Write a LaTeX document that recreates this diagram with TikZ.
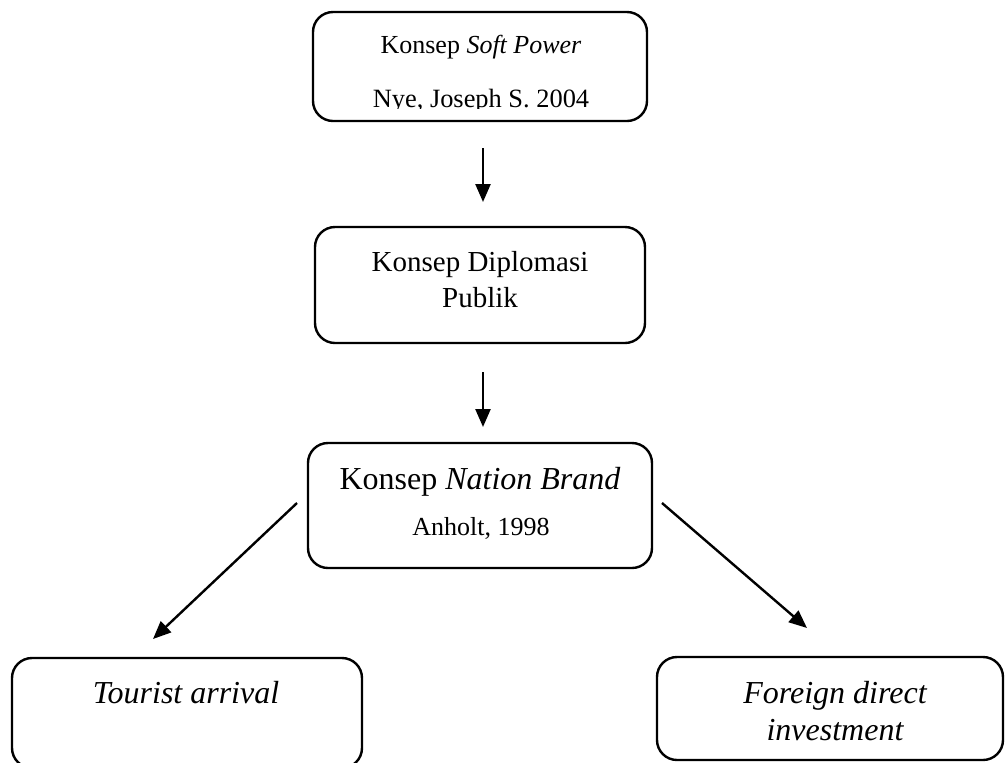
\documentclass[tikz,border=0pt]{standalone}
\usepackage{fontspec}
\setmainfont{Liberation Serif}
\usetikzlibrary{arrows.meta}

\begin{document}
\begin{tikzpicture}[x=0.5pt,y=-0.5pt]
  \tikzset{BoxStyle/.style = {
    shape           = rectangle,
    draw            = black,
    fill            = white,
    line width      = 1.2pt,
    rounded corners = 10pt,
    inner sep       = 0pt,
    outer sep       = 0pt
    }
  }
  \tikzset{TextStyle/.style = {
    anchor          = base,
    inner sep       = 0pt,
    text            = black
    }
  }
  \tikzset{ArrowStyle/.style = {
    draw            = black,
    line width      = 1.2pt,
    -{Triangle[length=9pt, width=7.5pt]}
    }
  }

  \useasboundingbox (0,0) rectangle (1008,762);

	\node[BoxStyle, minimum width=167pt, minimum height=54.5pt](A1) at (480, 66.5) {};
	\node[BoxStyle, minimum width=165pt, minimum height=58pt](A2) at (480, 285) {};
	\node[BoxStyle, minimum width=172pt, minimum height=62.5pt](A3) at (480, 505.5) {};
	\node[BoxStyle, minimum width=175pt, minimum height=55pt](B1) at (187, 713) {};
	\node[BoxStyle, minimum width=173pt, minimum height=51.5pt](B2) at (830, 708.5) {};

	\node[TextStyle, font=\fontsize{13}{15}\selectfont](T1) at (481, 53) {Konsep \textit{Soft Power}};
	\begin{scope}
	  \clip (300, 60) rectangle (660, 108);
	  \node[TextStyle, font=\fontsize{13.2}{15}\selectfont](T2) at (481, 107) {Nye, Joseph S. 2004};
	\end{scope}
	\node[TextStyle, font=\fontsize{14.5}{17}\selectfont](T3) at (480, 271) {Konsep Diplomasi};
	\node[TextStyle, font=\fontsize{14.5}{17}\selectfont](T4) at (480, 307) {Publik};
	\node[TextStyle, font=\fontsize{16}{19}\selectfont](T5) at (480, 489) {Konsep \textit{Nation Brand}};
	\node[TextStyle, font=\fontsize{13}{16}\selectfont](T6) at (481, 535) {Anholt, 1998};
	\node[TextStyle, font=\fontsize{16}{19}\itshape](T7) at (186, 703) {Tourist arrival};
	\node[TextStyle, font=\fontsize{16}{19}\itshape](T8) at (835, 703) {Foreign direct};
	\node[TextStyle, font=\fontsize{16}{19}\itshape](T9) at (835, 740) {investment};

	\draw[ArrowStyle]([xshift=1.5pt, yshift=-13.5pt]A1.south) -- ([xshift=1.5pt, yshift=12.5pt]A2.north);
	\draw[ArrowStyle]([xshift=1.5pt, yshift=-14.5pt]A2.south) -- ([xshift=1.5pt, yshift=8pt]A3.north);
	\draw[ArrowStyle]([xshift=-5.5pt, yshift=1.25pt]A3.west) -- ([xshift=-17pt, yshift=9.5pt]B1.north);
	\draw[ArrowStyle]([xshift=5pt, yshift=1.25pt]A3.east) -- ([xshift=-11.5pt, yshift=14.5pt]B2.north);

  \end{tikzpicture}
\end{document}
